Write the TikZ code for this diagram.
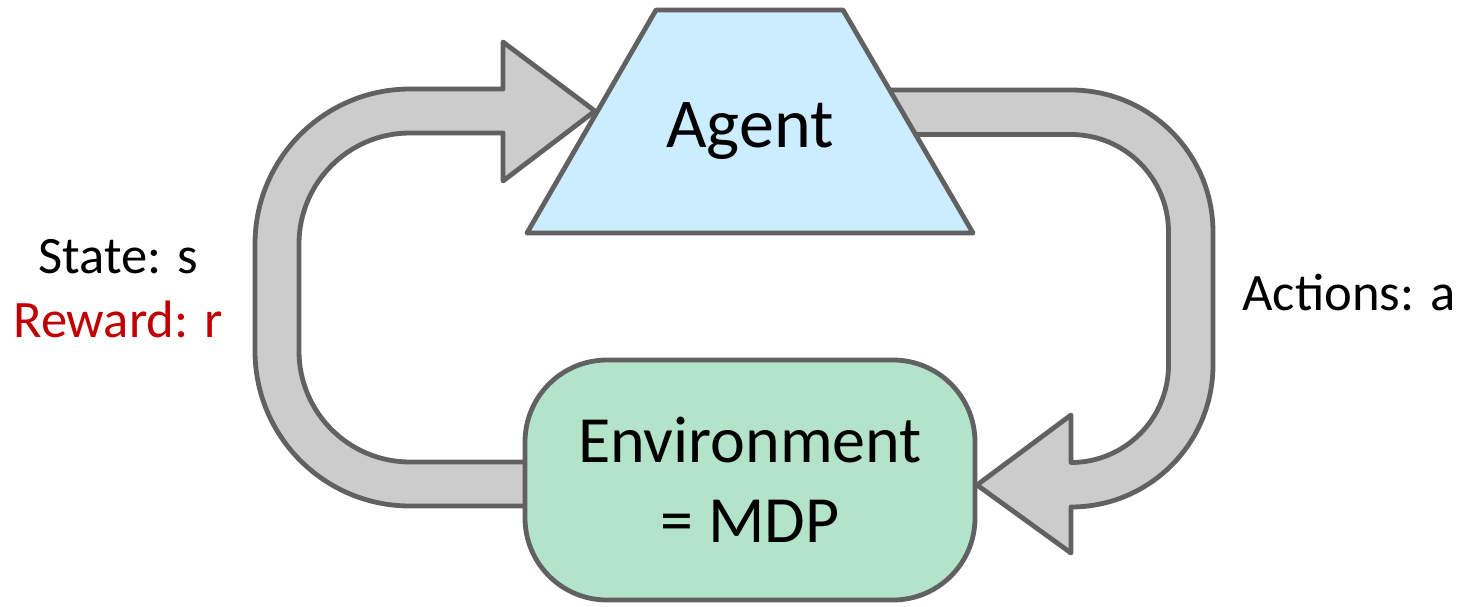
\documentclass[tikz,border=0pt]{standalone}
\usepackage{fontspec}
\setmainfont{Carlito}
\definecolor{edge}{HTML}{616161}
\definecolor{arrowfill}{HTML}{CCCCCC}
\definecolor{agentfill}{HTML}{CCECFF}
\definecolor{envfill}{HTML}{B3E3C8}
\definecolor{rewardred}{HTML}{C00000}
\begin{document}
\begin{tikzpicture}[x=0.5pt,y=-0.5pt,
  blockarrow/.style={draw=edge,fill=arrowfill,line width=2.4pt,line join=round},
  agentshape/.style={draw=edge,fill=agentfill,line width=2.4pt,line join=round},
  envbox/.style={draw=edge,fill=envfill,line width=2.4pt,rounded corners=41pt,
    minimum width=225pt,minimum height=120pt,align=center,font=\fontsize{33}{40}\selectfont,inner sep=0pt},
  bigtext/.style={font=\fontsize{35}{40}\selectfont,anchor=base},
  labeltext/.style={font=\fontsize{26.3}{31}\selectfont,anchor=base}]
\useasboundingbox (0,0) rectangle (1463,606);
% left block arrow (state / reward)
\draw[blockarrow] (530,462) -- (410,462)
  arc[start angle=270,end angle=180,radius=55.5pt] -- (299,244)
  arc[start angle=180,end angle=90,radius=55.5pt] -- (503,133) -- (503,181)
  -- (595,111) -- (503,42) -- (503,89) -- (410,89)
  arc[start angle=90,end angle=180,radius=77.5pt] -- (255,351)
  arc[start angle=180,end angle=270,radius=77.5pt] -- (530,506) -- cycle;
% right block arrow (actions)
\draw[blockarrow] (880,90) -- (1071,90)
  arc[start angle=90,end angle=0,radius=71pt] -- (1213,365)
  arc[start angle=0,end angle=-90,radius=71pt] -- (1071,553)
  -- (977,485) -- (1071,415) -- (1071,462.5)
  arc[start angle=-90,end angle=0,radius=48.75pt] -- (1168.5,232)
  arc[start angle=0,end angle=90,radius=48.75pt] -- (880,134.5) -- cycle;
% agent trapezoid
\draw[agentshape] (656,10) -- (843,10) -- (973,233) -- (527,233) -- cycle;
\node[bigtext] (agent) at (750,147) {Agent};
% environment
\node[envbox] (env) at (750,480) {Environment\\= MDP};
% labels
\node[labeltext] (state) at (118,273) {State: s};
\node[labeltext,text=rewardred] (reward) at (118,337) {Reward: r};
\node[labeltext] (actions) at (1349,310) {Actions: a};
\end{tikzpicture}
\end{document}
